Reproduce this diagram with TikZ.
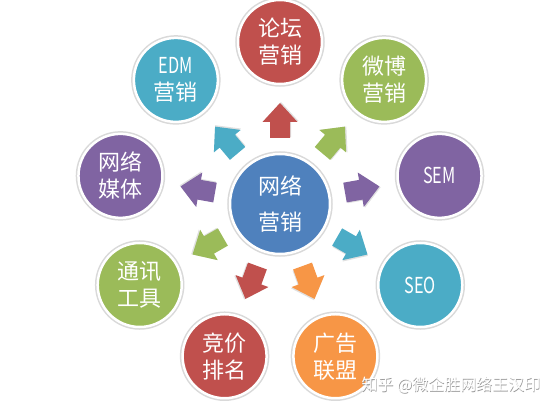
\documentclass[tikz,border=0pt]{standalone}
\usepackage{fontspec}
\setmainfont{Noto Sans CJK SC}
\definecolor{cred}{HTML}{C0504D}
\definecolor{cgreen}{HTML}{9BBB59}
\definecolor{cpurple}{HTML}{8064A2}
\definecolor{caqua}{HTML}{4BACC6}
\definecolor{corange}{HTML}{F79646}
\definecolor{cblue}{HTML}{4F81BD}
\newcommand{\narrowtxt}[1]{\scalebox{0.74}[1]{#1}}
\tikzset{
  bub/.style={circle, fill=#1, draw=white, line width=2.5pt, minimum size=84pt,
    inner sep=0pt, text=white, align=center,
    font=\fontsize{22}{27}\selectfont,
    preaction={draw=black!15, line width=5.5pt}},
  hub/.style={bub=cblue, minimum size=100pt, font=\fontsize{22}{36}\selectfont},
  blockarrow/.pic={
    \fill[pic actions] (0,-10) -- (16,-10) -- (16,-17.5) -- (35,0)
      -- (16,17.5) -- (16,10) -- (0,10) -- cycle;
  },
  wmark/.style={font=\fontsize{16}{16}\selectfont}
}
\begin{document}
\begin{tikzpicture}[x=1pt,y=1pt]
\useasboundingbox (0,0) rectangle (558,408);
\fill[white] (0,0) rectangle (558,408);
\coordinate (C) at (280,204);

% arrows
\foreach \a/\c [count=\i] in {90/cred,50/cgreen,10/cpurple,-30/caqua,-70/corange,-110/cred,-150/cgreen,170/cpurple,130/caqua}{
  \pic (ar\i) [fill=black!12, rotate=\a] at ([shift={(\a:66)}] C) [shift={(1,-1)}] {blockarrow};
  \pic (arw\i) [fill=\c, rotate=\a] at ([shift={(\a:66)}] C) {blockarrow};
}

% hub
\node[hub] (hub) at (C) {网络\\营销};

% satellites
\node[bub=cred]    (luntan) at ([shift={(90:162)}] C)   {论坛\\营销};
\node[bub=cgreen]  (weibo)  at ([shift={(50:162)}] C)   {微博\\营销};
\node[bub=cpurple] (sem)    at ([shift={(10:162)}] C)   {\narrowtxt{SEM}};
\node[bub=caqua]   (seo)    at ([shift={(-30:162)}] C)  {\narrowtxt{SEO}};
\node[bub=corange] (guanggao) at ([shift={(-70:162)}] C) {广告\\联盟};
\node[bub=cred]    (jingjia) at ([shift={(-110:162)}] C) {竞价\\排名};
\node[bub=cgreen]  (tongxun) at ([shift={(-150:162)}] C) {通讯\\工具};
\node[bub=cpurple] (meiti)  at ([shift={(170:162)}] C)  {网络\\媒体};
\node[bub=caqua]   (edm)    at ([shift={(130:162)}] C)  {\narrowtxt{EDM}\\营销};

% watermark
\node[wmark, text=black!40] (wm0) at (451.6,22.2) {知乎 @微企胜网络王汉印};
\node[wmark, text=white] (wm) at (451,23) {知乎 @微企胜网络王汉印};
\end{tikzpicture}
\end{document}
